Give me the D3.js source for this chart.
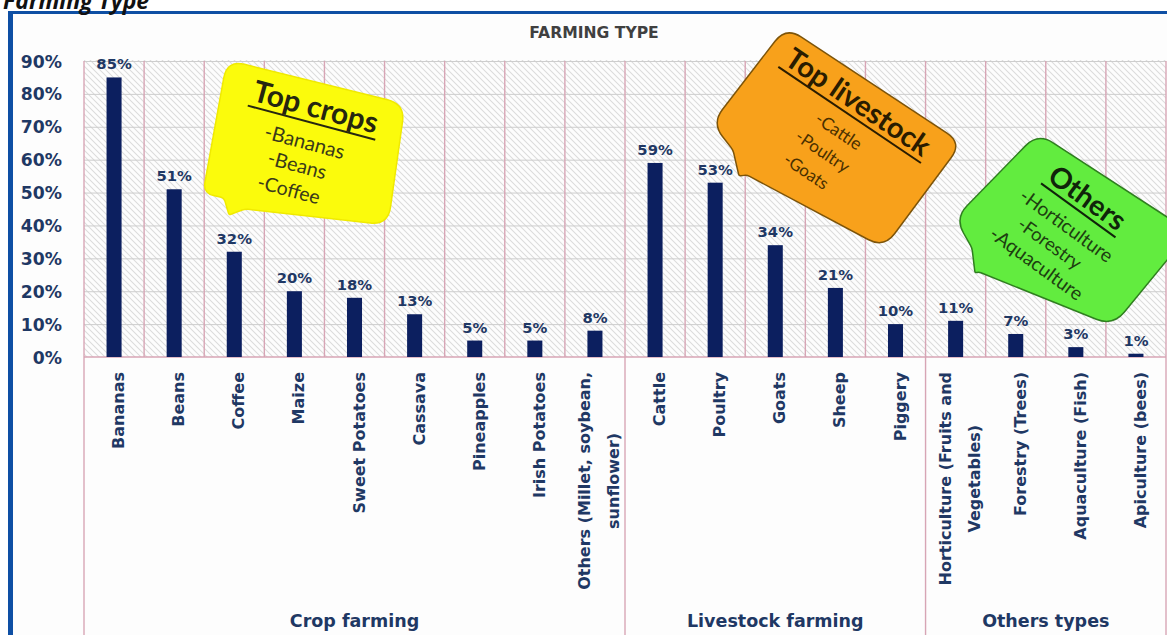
<!DOCTYPE html>
<html><head><meta charset="utf-8">
<script src="https://cdn.jsdelivr.net/npm/d3@7"></script>
<style>body{margin:0;background:#fff;overflow:hidden}svg{display:block}</style>
</head><body>
<svg id="chart" width="1167" height="635"></svg>
<script>
// ---------- data ----------
const categories = ["Bananas","Beans","Coffee","Maize","Sweet Potatoes","Cassava","Pineapples","Irish Potatoes","Others (Millet, soybean,\nsunflower)","Cattle","Poultry","Goats","Sheep","Piggery","Horticulture (Fruits and\nVegetables)","Forestry (Trees)","Aquaculture (Fish)","Apiculture (bees)"];
const values = [85,51,32,20,18,13,5,5,8,59,53,34,21,10,11,7,3,1];
const groupNames = ["Crop farming","Livestock farming","Others types"];
const groupSizes = [9,5,4];
const yTicks = [0,10,20,30,40,50,60,70,80,90];
const chartTitle = "FARMING TYPE";
const pageTitle = "Farming Type";

// ---------- layout ----------
const W = 1167, H = 635;
const svg = d3.select("#chart");
const navy = "#1f3864", pink = "#d7a5b5";
const plot = {l:84, r:1166, t:61, b:357};
const labelFont = "'DejaVu Sans', sans-serif";

const x = d3.scaleBand().domain(d3.range(categories.length)).range([plot.l, plot.r]).padding(0);
const y = d3.scaleLinear().domain([0,90]).range([plot.b, plot.t]);

// defs
const defs = svg.append("defs");
defs.append("pattern").attr("id","hatch").attr("patternUnits","userSpaceOnUse")
  .attr("width",6).attr("height",6)
  .append("path").attr("d","M-1,-1L7,7M-1,5L1,7M5,-1L7,1")
  .attr("stroke","#dcdcdc").attr("stroke-width",1.1).attr("fill","none");

// frame
svg.append("rect").attr("x",0).attr("y",0).attr("width",W).attr("height",H).attr("fill","#fff");
svg.append("rect").attr("x",13).attr("y",14).attr("width",W-13).attr("height",H-14).attr("fill","#fdfdfd");
svg.append("rect").attr("x",8).attr("y",11).attr("width",5).attr("height",H-11).attr("fill","#0e4fa4");
svg.append("rect").attr("x",8).attr("y",11).attr("width",W-8).attr("height",3).attr("fill","#0e4fa4");

svg.append("text").attr("x",3).attr("y",9)
  .attr("font-family","'Open Sans', sans-serif").attr("font-weight",700).attr("font-style","italic")
  .attr("font-size",23).attr("fill","#111").text(pageTitle);

svg.append("text").attr("x",594).attr("y",38).attr("text-anchor","middle")
  .attr("font-family",labelFont).attr("font-weight",700).attr("font-size",15.6)
  .attr("fill","#404040").text(chartTitle);

// hatched plot background
svg.append("rect").attr("x",plot.l).attr("y",plot.t-1).attr("width",plot.r-plot.l).attr("height",plot.b-plot.t+1)
  .attr("fill","url(#hatch)");

// horizontal grid
const grid = svg.append("g").attr("transform",`translate(${plot.l},0)`)
  .call(d3.axisLeft(y).tickValues(yTicks.filter(d=>d>0)).tickSize(-(plot.r-plot.l)).tickFormat(""));
grid.select(".domain").remove();
grid.selectAll("line").attr("stroke","#cdcdcd").attr("stroke-width",1);

// vertical category lines
const bounds = d3.range(categories.length+1).map(i => i < categories.length ? x(i) : plot.r);
const groupBounds = [0];
groupSizes.forEach(s => groupBounds.push(groupBounds[groupBounds.length-1]+s));
svg.append("g").selectAll("line").data(bounds).join("line")
  .attr("x1",d=>d).attr("x2",d=>d).attr("y1",plot.t)
  .attr("y2",(d,i)=> groupBounds.includes(i) ? H : plot.b)
  .attr("stroke",pink).attr("stroke-width",1.4);

// zero line
svg.append("line").attr("x1",plot.l).attr("x2",plot.r).attr("y1",y(0)).attr("y2",y(0))
  .attr("stroke",pink).attr("stroke-width",1.4);

// bars
const bw = x.bandwidth()*0.25;
svg.append("g").selectAll("rect").data(values).join("rect")
  .attr("x",(d,i)=>x(i)+(x.bandwidth()-bw)/2).attr("width",bw)
  .attr("y",d=>y(d)).attr("height",d=>y(0)-y(d)).attr("fill","#0c1f5f");

// value labels
svg.append("g").selectAll("text").data(values).join("text")
  .attr("x",(d,i)=>x(i)+x.bandwidth()/2).attr("y",d=>y(d)-8)
  .attr("text-anchor","middle").attr("font-family",labelFont).attr("font-weight",700)
  .attr("font-size",14.8).attr("fill",navy).text(d=>d+"%");

// y axis labels
const yax = svg.append("g").attr("transform",`translate(${plot.l},0)`)
  .call(d3.axisLeft(y).tickValues(yTicks).tickSize(0).tickPadding(22).tickFormat(d=>d+"%"));
yax.select(".domain").remove();
yax.selectAll("text").attr("font-family",labelFont).attr("font-weight",700)
  .attr("font-size",17.2).attr("fill",navy).attr("dy","0.35em");

// category labels (rotated)
const yTop = 372, lineGap = 29;
categories.forEach((c,i) => {
  const lines = c.split("\n");
  const cx = x(i)+x.bandwidth()/2;
  let L1 = 0;
  lines.forEach((ln,k) => {
    const off = 10 + (k-(lines.length-1)/2)*lineGap;
    const t = svg.append("text")
      .attr("transform",`translate(${cx+off},${yTop}) rotate(-90)`)
      .attr("font-family",labelFont).attr("font-weight",700).attr("font-size",16)
      .attr("fill",navy).text(ln);
    if (k===0){ t.attr("text-anchor","end").attr("x",0); L1 = t.node().getComputedTextLength(); }
    else { t.attr("text-anchor","middle").attr("x",-L1/2); }
  });
});

// group labels
groupNames.forEach((g,j) => {
  const a = bounds[groupBounds[j]], b = bounds[groupBounds[j+1]];
  svg.append("text").attr("x",(a+b)/2).attr("y",627).attr("text-anchor","middle")
    .attr("font-family",labelFont).attr("font-weight",700).attr("font-size",17.5)
    .attr("fill",navy).text(g);
});

// ---------- callout bubbles ----------
function roundedPath(pts, radii){
  const n = pts.length; let d = "";
  for (let i=0;i<n;i++){
    const P = pts[i], A = pts[(i-1+n)%n], B = pts[(i+1)%n];
    const da = Math.hypot(A[0]-P[0],A[1]-P[1]), db = Math.hypot(B[0]-P[0],B[1]-P[1]);
    const r = Math.min(radii[i], da/2, db/2);
    const p1 = [P[0]+(A[0]-P[0])/da*r, P[1]+(A[1]-P[1])/da*r];
    const p2 = [P[0]+(B[0]-P[0])/db*r, P[1]+(B[1]-P[1])/db*r];
    d += (i===0?"M":"L")+p1[0]+","+p1[1]+"Q"+P[0]+","+P[1]+" "+p2[0]+","+p2[1];
  }
  return d+"Z";
}
const bubbles = [
  {fill:"#fbfb0c", stroke:"#f0ea00", angle:15, color:"#262610", sub:"#3a3a1a",
   pts:[[227,60],[405,104],[388,225],[245,209],[229,215],[224,198],[203,193]],
   title:{t:"Top crops",cx:316,cy:106,len:128},
   lines:[{t:"-Bananas",cx:305,cy:141,len:82},{t:"-Beans",cx:297.5,cy:164,len:60},{t:"-Coffee",cx:289,cy:189,len:64}]},
  {fill:"#f8a11b", stroke:"#7d5409", angle:34, color:"#2a1c00", sub:"#4a3000",
   pts:[[786,27],[962,143],[884,248],[747,175],[739,176],[733,150],[712,123]],
   title:{t:"Top livestock",cx:859,cy:101,len:168},
   lines:[{t:"-Cattle",cx:839,cy:131,len:52},{t:"-Poultry",cx:823,cy:151,len:61},{t:"-Goats",cx:806.5,cy:171,len:50}]},
  {fill:"#62ec3f", stroke:"#2f7f1f", angle:36, color:"#10240a", sub:"#1d3f10",
   pts:[[1038,133],[1190,232],[1113,326],[979,272],[975,273],[972,248],[955,218]],
   title:{t:"Others",cx:1088,cy:197,len:88},
   lines:[{t:"-Horticulture",cx:1067,cy:225,len:110},{t:"-Forestry",cx:1050,cy:243,len:74},{t:"-Aquaculture",cx:1037,cy:263,len:110}]}
];
const radiiFor = [18,18,18,3,2,3,18];
function fit(t, target){
  const len = t.node().getComputedTextLength();
  const fs = parseFloat(t.attr("font-size"));
  const nfs = fs*target/len; t.attr("font-size", nfs); return nfs;
}
bubbles.forEach(b => {
  svg.append("path").attr("d",roundedPath(b.pts, radiiFor))
    .attr("fill",b.fill).attr("stroke",b.stroke).attr("stroke-width",1.5);
  const tg = svg.append("g").attr("transform",`translate(${b.title.cx},${b.title.cy}) rotate(${b.angle})`);
  const tt = tg.append("text").attr("text-anchor","middle").attr("dominant-baseline","central")
    .attr("font-family","Lato, sans-serif").attr("font-weight",700).attr("font-size",24)
    .attr("fill",b.color).text(b.title.t);
  const fs = fit(tt, b.title.len);
  tg.append("line").attr("x1",-b.title.len/2-2).attr("x2",b.title.len/2+2)
    .attr("y1",fs*0.58).attr("y2",fs*0.58).attr("stroke",b.color).attr("stroke-width",2);
  b.lines.forEach(l => {
    const g = svg.append("g").attr("transform",`translate(${l.cx},${l.cy}) rotate(${b.angle})`);
    const t = g.append("text").attr("text-anchor","middle").attr("dominant-baseline","central")
      .attr("font-family","Lato, sans-serif").attr("font-weight",400).attr("font-size",16)
      .attr("fill",b.sub).text(l.t);
    fit(t, l.len);
  });
});
</script>
</body></html>
